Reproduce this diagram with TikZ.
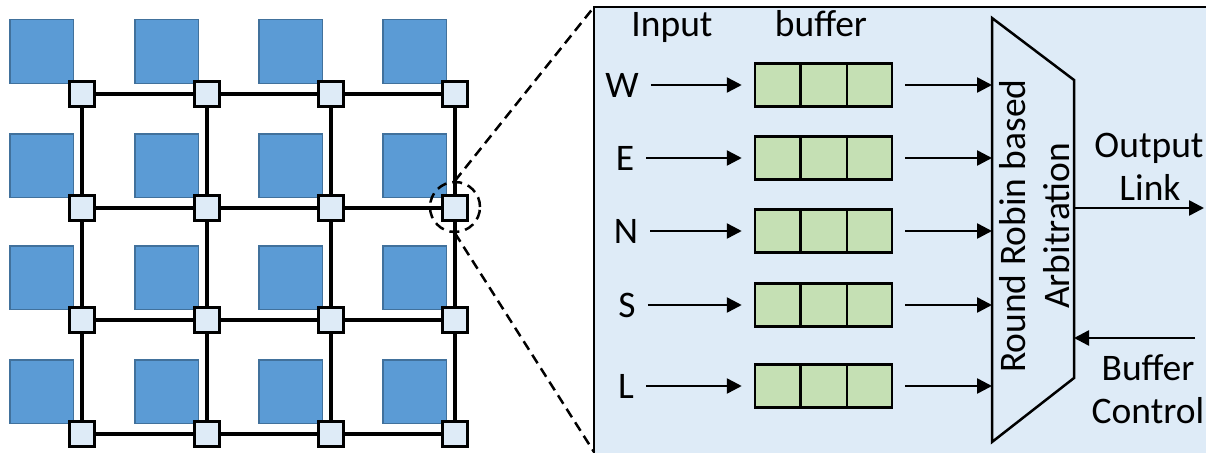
\documentclass[tikz,border=0pt]{standalone}
\usepackage{fontspec}
\setmainfont{Carlito}
\usetikzlibrary{arrows.meta,calc}
\definecolor{tileblue}{HTML}{5B9BD5}
\definecolor{tileedge}{HTML}{41719C}
\definecolor{routerfill}{HTML}{DEEBF7}
\definecolor{panelfill}{HTML}{DEEBF7}
\definecolor{bufgreen}{HTML}{C5E0B4}
\begin{document}
\begin{tikzpicture}[x=1pt,y=-1pt,
  tile/.style={draw=tileedge, line width=1.5pt, fill=tileblue, minimum size=63.5pt, inner sep=0pt},
  router/.style={draw=black, line width=3pt, fill=routerfill, minimum size=25pt, inner sep=0pt},
  link/.style={line width=3.5pt},
  bufbox/.style={draw, line width=2.5pt, fill=bufgreen, minimum width=137pt, minimum height=43pt, inner sep=0pt},
  sig/.style={line width=2.5pt, -{Triangle[length=15pt,width=15pt]}},
  lbl/.style={font=\fontsize{37.5}{44}\selectfont, inner sep=0pt},
  zoomline/.style={line width=2.5pt, dash pattern=on 10pt off 6pt}]
\useasboundingbox (0,0) rectangle (1206,452);
\clip (0,0) rectangle (1206,452);

% ---- mesh of routers and processing tiles ----
\foreach \i/\x in {1/82,2/207,3/331,4/455}
  \foreach \j/\y in {1/94,2/208,3/320,4/434}
    \coordinate (p-\i-\j) at (\x,\y);
\foreach \i in {1,...,4}
  \foreach \j in {1,...,4}
    \node[tile] (t-\i-\j) at ($(p-\i-\j)+(-40.5,-42.5)$) {};
\foreach \j in {1,...,4}
  \draw[link] (p-1-\j) -- (p-4-\j);
\foreach \i in {1,...,4}
  \draw[link] (p-\i-1) -- (p-\i-4);
\foreach \i in {1,...,4}
  \foreach \j in {1,...,4}
    \node[router] (r-\i-\j) at (p-\i-\j) {};

% ---- router detail panel ----
\coordinate (pTL) at (594,7);
\coordinate (pBL) at (594,452);
\draw[line width=2pt, fill=panelfill] (pTL) rectangle (1230,470);

\node[lbl, anchor=base] (inlbl) at (672,37) {Input};
\node[lbl, anchor=base] (buflbl) at (821,37) {buffer};

% arbiter
\coordinate (m1) at (992,18);
\coordinate (m2) at (1074,80);
\coordinate (m3) at (1074,378);
\coordinate (m4) at (992,442);
\draw[line width=2.5pt, fill=panelfill] (m1) -- (m2) -- (m3) -- (m4) -- cycle;
\node[lbl, rotate=90, align=center] (arb) at (1035,226) {Round Robin based\\Arbitration};

% input ports and their buffers
\foreach \n/\lx/\y in {W/622/85, E/625/158, N/626/231, S/627/305, L/626/386} {
  \node[lbl] (in\n) at (\lx,\y) {\n};
  \node[bufbox] (b\n) at (823.5,\y) {};
  \draw[line width=2.5pt] ($(b\n.north west)!1/3!(b\n.north east)$) -- ($(b\n.south west)!1/3!(b\n.south east)$);
  \draw[line width=2.5pt] ($(b\n.north west)!2/3!(b\n.north east)$) -- ($(b\n.south west)!2/3!(b\n.south east)$);
  \draw[sig, shorten <=12pt, shorten >=12pt] (in\n.east) -- (in\n.east -| b\n.west);
  \draw[sig, shorten <=12pt] (b\n.east) -- (b\n.east -| m1);
}

% output link and buffer control
\coordinate (mo) at (1074,208);
\coordinate (outR) at (1204,208);
\draw[sig] (mo) -- (outR);
\node[lbl, anchor=base] (outlbl1) at (1149,157) {Output};
\node[lbl, anchor=base] (outlbl2) at (1150,200) {Link};

\coordinate (bcR) at (1195,338);
\coordinate (mc) at (1074,338);
\draw[sig] (bcR) -- (mc);
\node[lbl, anchor=base] (bclbl1) at (1148,380) {Buffer};
\node[lbl, anchor=base] (bclbl2) at (1148,423) {Control};

% zoom marker
\node[draw, zoomline, circle, minimum size=50pt, inner sep=0pt] (zc) at (455,207) {};
\draw[zoomline] (zc.north) -- (pTL);
\draw[zoomline] (zc.south) -- (pBL);
\end{tikzpicture}
\end{document}
